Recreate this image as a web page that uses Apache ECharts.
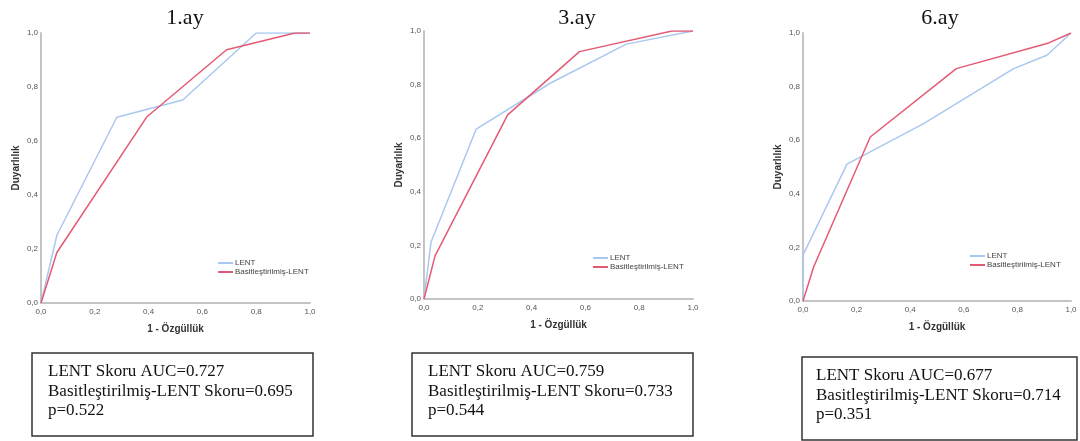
<!DOCTYPE html>
<html>
<head>
<meta charset="utf-8">
<script src="https://cdn.jsdelivr.net/npm/echarts@6/dist/echarts.min.js"></script>
<style>
html,body{margin:0;padding:0;background:#fff;}
#main{width:1080px;height:441px;}
</style>
</head>
<body>
<div id="main"></div>
<script>
// Panel titles and text
var panelTitles = ['1.ay', '3.ay', '6.ay'];
var seriesNames = ['LENT', 'Basitleştirilmiş-LENT'];
var tickValues = [0, 0.2, 0.4, 0.6, 0.8, 1.0];
var xAxisTitle = '1 - Özgüllük';
var yAxisTitle = 'Duyarlılık';

// ROC curve points [1 - specificity, sensitivity]
var lent1 = [[0,0],[0.059,0.251],[0.282,0.688],[0.527,0.752],[0.8,1.0],[1,1]];
var basit1 = [[0,0],[0.059,0.187],[0.394,0.69],[0.69,0.938],[0.944,1.0],[1,1]];
var lent3 = [[0,0],[0.026,0.212],[0.194,0.634],[0.469,0.805],[0.752,0.951],[1,1]];
var basit3 = [[0,0],[0.041,0.161],[0.311,0.687],[0.578,0.923],[0.922,1.0],[1,1]];
var lent6 = [[0,0],[0,0.171],[0.164,0.511],[0.45,0.662],[0.786,0.867],[0.91,0.917],[1,1]];
var basit6 = [[0,0],[0.04,0.128],[0.251,0.612],[0.572,0.867],[0.917,0.963],[1,1]];

var boxLines1 = ['LENT Skoru AUC=0.727', 'Basitleştirilmiş-LENT Skoru=0.695', 'p=0.522'];
var boxLines3 = ['LENT Skoru AUC=0.759', 'Basitleştirilmiş-LENT Skoru=0.733', 'p=0.544'];
var boxLines6 = ['LENT Skoru AUC=0.677', 'Basitleştirilmiş-LENT Skoru=0.714', 'p=0.351'];

var colors = ['#a9c8f0', '#e45a74'];
var lentData = [lent1, lent3, lent6];
var basitData = [basit1, basit3, basit6];
var boxLines = [boxLines1, boxLines3, boxLines6];

var grids = [
  {left: 41, top: 33, width: 269, height: 270},
  {left: 424, top: 31, width: 269, height: 268},
  {left: 803, top: 33, width: 268, height: 268}
];
var titlePos = [[180, 2], [572, 2], [935, 2]];
var legendPos = [[218, 259], [593, 254], [970, 252]];
var boxes = [
  {x: 32, y: 353, w: 281, h: 83, tx: 48, ty: 362},
  {x: 412, y: 353, w: 281, h: 83, tx: 428, ty: 362},
  {x: 802, y: 357, w: 275, h: 83, tx: 816, ty: 366}
];

function fmt(v){ return v.toFixed(1).replace('.', ','); }

var axisLineStyle = {show: true, lineStyle: {color: '#c4c4c4', width: 2}};
var axisLabelStyle = {color: '#555', fontSize: 8, fontFamily: 'Liberation Sans', formatter: fmt};
var nameStyle = {color: '#333', fontSize: 10, fontWeight: 'bold', fontFamily: 'Liberation Sans'};

var option = {
  backgroundColor: '#fff',
  animation: false,
  title: [], grid: [], xAxis: [], yAxis: [], legend: [], series: [], graphic: []
};

for (var i = 0; i < 3; i++) {
  option.title.push({
    text: panelTitles[i], left: titlePos[i][0], top: titlePos[i][1], textAlign: 'center',
    textStyle: {fontFamily: 'Liberation Serif', fontSize: 22, fontWeight: 'normal', color: '#111'}
  });
  option.grid.push(grids[i]);
  option.xAxis.push({
    type: 'value', gridIndex: i, min: 0, max: 1, interval: 0.2,
    name: xAxisTitle, nameLocation: 'middle', nameGap: 21, nameTextStyle: nameStyle,
    axisLine: axisLineStyle, axisTick: {show: false}, splitLine: {show: false},
    axisLabel: Object.assign({margin: 5}, axisLabelStyle)
  });
  option.yAxis.push({
    type: 'value', gridIndex: i, min: 0, max: 1, interval: 0.2,
    name: yAxisTitle, nameLocation: 'middle', nameGap: 20, nameTextStyle: nameStyle,
    axisLine: axisLineStyle, axisTick: {show: false}, splitLine: {show: false},
    axisLabel: Object.assign({margin: 3}, axisLabelStyle)
  });
  option.legend.push({
    data: seriesNames, orient: 'vertical', left: legendPos[i][0], top: legendPos[i][1],
    icon: 'rect', itemWidth: 15, itemHeight: 2, itemGap: 1, padding: 0,
    textStyle: {fontSize: 8, color: '#444', fontFamily: 'Liberation Sans', padding: [0,0,0,-3]},
    selectedMode: false
  });
  option.series.push({
    name: seriesNames[0], type: 'line', xAxisIndex: i, yAxisIndex: i,
    data: lentData[i], showSymbol: false, symbol: 'none',
    lineStyle: {color: colors[0], width: 1.5}, itemStyle: {color: colors[0]}
  });
  option.series.push({
    name: seriesNames[1], type: 'line', xAxisIndex: i, yAxisIndex: i,
    data: basitData[i], showSymbol: false, symbol: 'none',
    lineStyle: {color: colors[1], width: 1.5}, itemStyle: {color: colors[1]}
  });
  var b = boxes[i];
  option.graphic.push({
    type: 'rect', shape: {x: b.x, y: b.y, width: b.w, height: b.h},
    style: {fill: '#fff', stroke: '#333', lineWidth: 1.5}
  });
  option.graphic.push({
    type: 'text', x: b.tx, y: b.ty,
    style: {text: boxLines[i].join('\n'), font: '17px "Liberation Serif"', fill: '#111', lineHeight: 19.5}
  });
}

var chart = echarts.init(document.getElementById('main'));
chart.setOption(option);
</script>
</body>
</html>
